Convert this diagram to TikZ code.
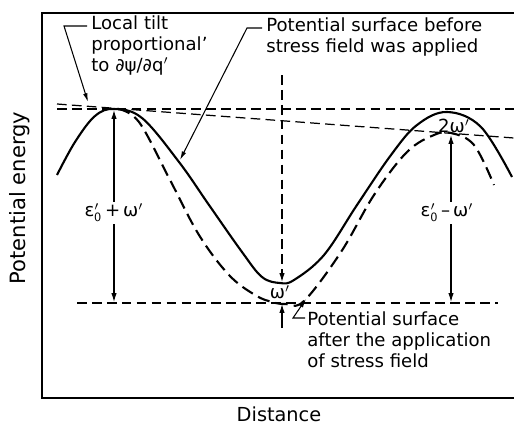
\documentclass[tikz,border=0pt]{standalone}
\usepackage{fontspec}
\setmainfont{DejaVu Sans}
\usetikzlibrary{arrows.meta, positioning}

\begin{document}
\begin{tikzpicture}[x=0.02cm, y=-0.02cm,
        frame/.style={line width=0.9pt},
        surfbefore/.style={line width=1.2pt},
        surfafter/.style={line width=1.2pt, dash pattern=on 7pt off 3.5pt},
        guide/.style={line width=0.7pt, dash pattern=on 5.5pt off 3pt},
        dim/.style={line width=0.6pt, -{Latex[length=5pt,width=3pt]}},
        lead/.style={line width=0.6pt, -{Latex[length=5pt,width=2.6pt]}},
        note/.style={align=left, font=\fontsize{10.3}{12}\selectfont, inner sep=0pt},
        lbl/.style={font=\fontsize{10.3}{12}\selectfont, inner sep=1pt}
    ]
        \useasboundingbox (0,0) rectangle (514,426);

        % frame and axis names
        \draw[frame] (514,13) -- (42,13) -- (42,398) -- (514,398);
        \node[lbl, font=\fontsize{12}{14}\selectfont, rotate=90] (ylab) at (20,198) {Potential energy};
        \node[lbl, font=\fontsize{11}{13}\selectfont, inner sep=0pt] (xlab) at (279,414) {Distance};

        % reference lines
        \draw[guide] (57,109) -- (514,109);
        \draw[guide] (57,104) -- (514,138);
        \draw[guide] (77,303) -- (498,303);

        % surfaces
        \draw[surfbefore] plot[smooth, tension=0.6] coordinates {(57,175) (75,142) (95,116) (114,109) (142,118) (179,162) (209,205) (242,252) (262,277) (280,283) (294,280) (324,255) (357,205) (391,155) (417,125) (447,112) (481,127) (512,177)};
        \draw[surfafter] plot[smooth, tension=0.6] coordinates {(118,109) (139,122) (169,178) (199,235) (229,275) (255,295) (272,302) (286,304) (304,301) (341,252) (374,195) (407,152) (434,135) (451,133) (474,145) (494,185)};

        % barrier heights
        \node[lbl] (hplus) at (114,213) {ε$'_{\mathsf{0}}$\,+\,ω$'$};
        \coordinate (ltop) at (114,110);
        \coordinate (lbot) at (114,302);
        \draw[dim] (hplus) -- (ltop);
        \draw[dim] (hplus) -- (lbot);

        \node[lbl] (hminus) at (447,213) {ε$'_{\mathsf{0}}$\,--\,ω$'$};
        \coordinate (rtop) at (451,135);
        \coordinate (rbot) at (451,302);
        \draw[dim] (hminus.north -| rtop) -- (rtop);
        \draw[dim] (hminus.south -| rbot) -- (rbot);
        \node[lbl] (twow) at (454,126) {2ω$'$};

        % shift at the trough
        \coordinate (vtop) at (282,75);
        \coordinate (vmin) at (282,282);
        \draw[guide, dim] (vtop) -- (vmin);
        \node[lbl] (wmin) at (280,292) {ω$'$};
        \coordinate (wfoot) at (282,328);
        \coordinate (wline) at (282,304);
        \draw[dim] (wfoot) -- (wline);

        % notes
        \node[note, anchor=north west] (tilt) at (91,15) {Local tilt\\proportional'\\to ∂ψ/∂q$'$};
        \coordinate (tiltbend) at (64,26);
        \coordinate (tilttip) at (88,102);
        \draw[lead] ([shift={(-4,11)}]tilt.north west) -- (tiltbend) -- (tilttip);

        \node[note, anchor=north west] (before) at (266,17) {Potential surface before\\stress field was applied};
        \coordinate (beforebend) at (247,28);
        \coordinate (beforetip) at (180,160);
        \draw[lead] ([shift={(-4,11)}]before.north west) -- (beforebend) -- (beforetip);

        \node[note, anchor=north west] (after) at (307,311) {Potential surface\\after the application\\of stress field};
        \coordinate (afterbend) at (293,318);
        \coordinate (aftertip) at (306,299);
        \draw[lead] ([shift={(-2,7)}]after.north west) -- (afterbend) -- (aftertip);
    \end{tikzpicture}
\end{document}
